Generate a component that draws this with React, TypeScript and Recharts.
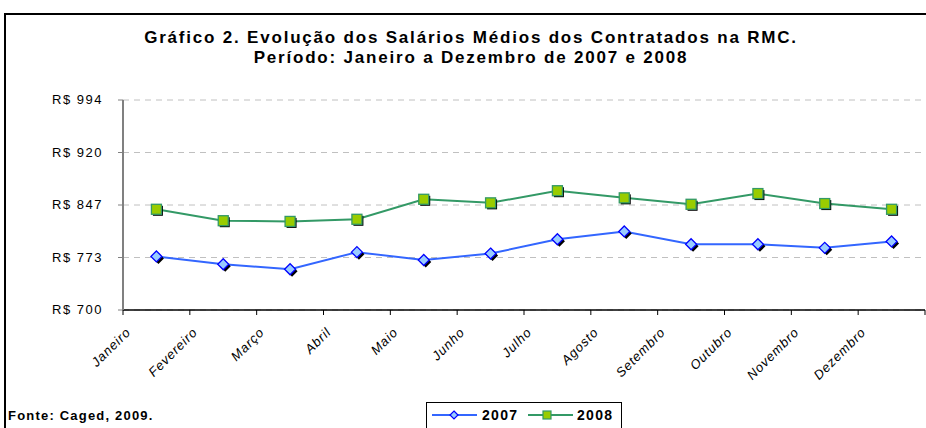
import { LineChart, Line, XAxis, YAxis, CartesianGrid } from 'recharts'

const months = [
  'Janeiro', 'Fevereiro', 'Março', 'Abril', 'Maio', 'Junho',
  'Julho', 'Agosto', 'Setembro', 'Outubro', 'Novembro', 'Dezembro',
]
const salarios2007 = [775, 764, 757, 781, 770, 779, 799, 810, 792, 792, 787, 796]
const salarios2008 = [841, 825, 824, 827, 855, 850, 867, 857, 848, 863, 849, 841]
const yTicks = [700, 773.5, 847, 920.5, 994]

const data = months.map((m, i) => ({ month: m, y2007: salarios2007[i], y2008: salarios2008[i] }))

const FONT = '"Liberation Sans", Arial, sans-serif'

// markers with the little black drop shadow Excel used
const diamondPath = (x: number, y: number, r: number) =>
  `M${x},${y - r} L${x + r},${y} L${x},${y + r} L${x - r},${y} Z`

const DiamondDot = (props: any) => {
  const { cx, cy } = props
  if (cx == null || cy == null) return null
  return (
    <g>
      <path d={diamondPath(cx + 2, cy + 2, 5.5)} fill="#000" />
      <path d={diamondPath(cx, cy, 5.5)} fill="#99CCFF" stroke="#0000FF" strokeWidth={1.3} />
    </g>
  )
}

const SquareDot = (props: any) => {
  const { cx, cy } = props
  if (cx == null || cy == null) return null
  return (
    <g>
      <rect x={cx - 3.5} y={cy - 3.5} width={10} height={10} fill="#000" />
      <rect x={cx - 5} y={cy - 5} width={10} height={10} fill="#99CC00" stroke="#339966" strokeWidth={1.3} />
    </g>
  )
}

// month label + the tick marks that sit on the category boundaries
const MonthTick = (props: any) => {
  const { x, y, payload, index, width, visibleTicksCount } = props
  const step = width / visibleTicksCount
  const isLast = index === visibleTicksCount - 1
  return (
    <g>
      <line x1={x - step / 2} x2={x - step / 2} y1={y} y2={y + 5} stroke="#000" />
      {isLast && <line x1={x + step / 2} x2={x + step / 2} y1={y} y2={y + 5} stroke="#000" />}
      <text
        x={0}
        y={0}
        transform={`translate(${x - 25},${y + 23}) rotate(-45)`}
        textAnchor="end"
        fontFamily={FONT}
        fontSize={13}
        fontStyle="italic"
        letterSpacing={0.9}
        fill="#000"
      >
        {payload.value}
      </text>
    </g>
  )
}

const ValueTick = (props: any) => {
  const { x, y, payload } = props
  return (
    <text x={x} y={y} dy={4} textAnchor="end" fontFamily={FONT} fontSize={13} letterSpacing={1.5} fill="#000">
      {`R$ ${Math.floor(payload.value)}`}
    </text>
  )
}

export default function App() {
  return (
    <div style={{ position: 'absolute', left: 0, top: 0, width: 926, height: 428, background: '#fff', overflow: 'hidden' }}>
      {/* outer frame, only top and left are visible in the original */}
      <div style={{ position: 'absolute', left: 4, top: 13, width: 940, height: 440, borderTop: '2px solid #000', borderLeft: '2px solid #000' }} />

      <div
        style={{
          position: 'absolute',
          left: 0,
          top: 28,
          width: 942,
          textAlign: 'center',
          fontFamily: FONT,
          fontWeight: 'bold',
          fontSize: 17,
          letterSpacing: 1.8,
          lineHeight: '20px',
          color: '#000',
        }}
      >
        Gráfico 2. Evolução dos Salários Médios dos Contratados na RMC.
        <br />
        Período: Janeiro a Dezembro de 2007 e 2008
      </div>

      <div style={{ position: 'absolute', left: 0, top: 0 }}>
        <LineChart width={926} height={428} data={data} margin={{ top: 100, right: 1, bottom: 0, left: 0 }}>
          <CartesianGrid vertical={false} stroke="#C0C0C0" strokeDasharray="6 5" />
          <XAxis
            dataKey="month"
            scale="band"
            interval={0}
            axisLine={{ stroke: '#000', strokeWidth: 1.5 }}
            tickLine={false}
            tickSize={0}
            tickMargin={0}
            tick={<MonthTick />}
            height={118}
          />
          <YAxis
            domain={[700, 994]}
            ticks={yTicks}
            interval={0}
            width={123}
            axisLine={{ stroke: '#808080', strokeWidth: 2 }}
            tickLine={{ stroke: '#808080' }}
            tickSize={5}
            tickMargin={15}
            tick={<ValueTick />}
          />
          <Line
            dataKey="y2007"
            name="2007"
            stroke="#3366FF"
            strokeWidth={2}
            dot={<DiamondDot />}
            activeDot={false}
            isAnimationActive={false}
          />
          <Line
            dataKey="y2008"
            name="2008"
            stroke="#339966"
            strokeWidth={2}
            dot={<SquareDot />}
            activeDot={false}
            isAnimationActive={false}
          />
        </LineChart>
      </div>

      {/* legend box */}
      <div
        style={{
          position: 'absolute',
          left: 426,
          top: 402,
          width: 196,
          height: 32,
          boxSizing: 'border-box',
          border: '1px solid #000',
          background: '#fff',
        }}
      >
        <svg width={194} height={26}>
          <line x1={5} x2={50} y1={12} y2={12} stroke="#3366FF" strokeWidth={2} />
          <path d={diamondPath(27, 12, 4)} fill="#99CCFF" stroke="#0000FF" strokeWidth={1.2} />
          <text x={55} y={17} fontFamily={FONT} fontWeight="bold" fontSize={14} letterSpacing={1.3}>2007</text>
          <line x1={101} x2={146} y1={12} y2={12} stroke="#339966" strokeWidth={2} />
          <rect x={116} y={8} width={8} height={8} fill="#99CC00" stroke="#339966" strokeWidth={1.2} />
          <text x={150} y={17} fontFamily={FONT} fontWeight="bold" fontSize={14} letterSpacing={1.3}>2008</text>
        </svg>
      </div>

      <div
        style={{
          position: 'absolute',
          left: 8,
          top: 408,
          fontFamily: FONT,
          fontWeight: 'bold',
          fontSize: 13,
          letterSpacing: 1.2,
          color: '#000',
        }}
      >
        Fonte: Caged, 2009.
      </div>
    </div>
  )
}
